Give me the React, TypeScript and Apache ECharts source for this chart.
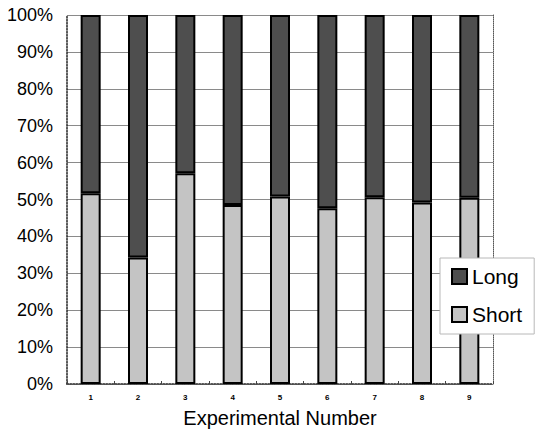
import React, { useEffect, useRef } from "react";
import * as echarts from "echarts";

const categories = ["1", "2", "3", "4", "5", "6", "7", "8", "9"];
const shortValues = [51.7, 34.3, 57.1, 48.5, 50.8, 47.6, 50.6, 49.2, 50.5];
const longValues = [48.3, 65.7, 42.9, 51.5, 49.2, 52.4, 49.4, 50.8, 49.5];
const seriesNames = ["Long", "Short"];
const xAxisTitle = "Experimental Number";

export default function App() {
  const ref = useRef<HTMLDivElement>(null);
  useEffect(() => {
    if (!ref.current) return;
    const chart = echarts.init(ref.current, null, { renderer: "svg" });
    const font = "Liberation Sans, Arial, sans-serif";
    chart.setOption({
      animation: false,
      backgroundColor: "#fff",
      grid: { left: 67, right: 43, top: 15, bottom: 51, outerBoundsMode: "none" },
      legend: {
        data: seriesNames,
        orient: "vertical",
        left: 440,
        top: 258,
        backgroundColor: "#fff",
        borderColor: "#b8b8b8",
        borderWidth: 1,
        padding: [8, 12, 9, 11],
        itemWidth: 15,
        itemHeight: 15,
        itemGap: 17,
        icon: "rect",
        textStyle: { fontSize: 21, color: "#000", fontFamily: font },
      },
      xAxis: [
        {
          type: "category",
          data: categories,
          axisLine: { lineStyle: { color: "#222", width: 1.5, type: "dotted" } },
          axisTick: { show: true, inside: true, length: 3, lineStyle: { color: "#444" } },
          axisLabel: { fontSize: 8, fontWeight: "bold", color: "#000", margin: 9, fontFamily: font },
          name: xAxisTitle,
          nameLocation: "middle",
          nameGap: 24,
          nameTextStyle: { fontSize: 20, color: "#000", fontFamily: font },
        },
        {
          type: "category",
          data: categories,
          position: "top",
          axisLine: { lineStyle: { color: "#555", width: 1, type: "dotted" } },
          axisTick: { show: false },
          axisLabel: { show: false },
        },
      ],
      yAxis: [
        {
          type: "value",
          min: 0,
          max: 100,
          interval: 10,
          axisLine: { show: true, lineStyle: { color: "#222", width: 1.5, type: "dotted" } },
          axisTick: { show: false },
          axisLabel: { formatter: "{value}%", fontSize: 18, color: "#000", margin: 14, fontFamily: font },
          splitLine: { lineStyle: { color: "#8a8a8a", width: 1 } },
        },
        {
          type: "value",
          min: 0,
          max: 100,
          interval: 10,
          position: "right",
          axisLine: { show: true, lineStyle: { color: "#555", width: 1, type: "dotted" } },
          axisTick: { show: false },
          axisLabel: { show: false },
          splitLine: { show: false },
        },
      ],
      series: [
        {
          name: "Short",
          type: "bar",
          stack: "total",
          data: shortValues,
          barWidth: 20,
          itemStyle: { color: "#c4c4c4", borderColor: "#000", borderWidth: 2 },
        },
        {
          name: "Long",
          type: "bar",
          stack: "total",
          data: longValues,
          barWidth: 20,
          itemStyle: { color: "#4e4e4e", borderColor: "#000", borderWidth: 2 },
        },
      ],
    });
    return () => chart.dispose();
  }, []);
  return <div ref={ref} style={{ width: 536, height: 435, position: "absolute", left: 0, top: 0 }} />;
}
